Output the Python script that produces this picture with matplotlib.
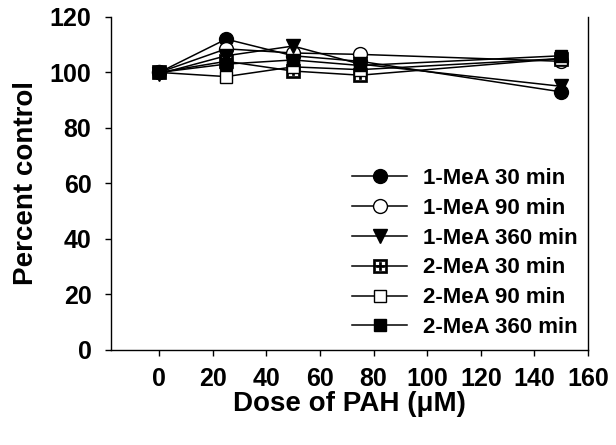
import matplotlib

matplotlib.use("Agg")
import matplotlib.pyplot as plt

plt.rcParams["font.family"] = ["Liberation Sans", "DejaVu Sans"]
plt.rcParams["font.weight"] = "bold"

dose = [0, 25, 50, 75, 150]
mea1_30 = [100, 112, 106, 104, 93]
mea1_90 = [100, 108.5, 107, 106.5, 104]
mea1_360 = [99.5, 106, 109.5, 103, 95]
mea2_30 = [100, 104, 100.5, 99, 105]
mea2_90 = [100, 98.5, 102, 101, 105]
mea2_360 = [100, 103, 104.5, 102.5, 106]

labels = ["1-MeA 30 min", "1-MeA 90 min", "1-MeA 360 min",
          "2-MeA 30 min", "2-MeA 90 min", "2-MeA 360 min"]
xticks = [0, 20, 40, 60, 80, 100, 120, 140, 160]
yticks = [0, 20, 40, 60, 80, 100, 120]

fig = plt.figure(figsize=(6.16, 4.45), dpi=100)
ax = fig.add_axes([0.180, 0.2135, 0.7745, 0.7485])

styles = [
    dict(marker="o", mfc="black", ms=10),
    dict(marker="o", mfc="white", ms=10),
    dict(marker="v", mfc="black", ms=10),
    dict(marker="$\u229e$", mfc="black", ms=10, mew=0.5),
    dict(marker="s", mfc="white", ms=8),
    dict(marker="s", mfc="black", ms=8),
]
series = [mea1_30, mea1_90, mea1_360, mea2_30, mea2_90, mea2_360]
for ys, lab, st in zip(series, labels, styles):
    ax.plot(dose, ys, color="black", lw=1.1, mec="black", label=lab, **st)

ax.set_xlim(-18, 160)
ax.set_ylim(0, 120)
ax.set_xticks(xticks)
ax.set_yticks(yticks)
ax.tick_params(direction="out", length=4, width=1, labelsize=18, pad=10)
ax.tick_params(axis="x", pad=8)
for t in ax.get_xticklabels() + ax.get_yticklabels():
    t.set_fontweight("bold")
ax.spines["top"].set_visible(False)
for s in ("left", "bottom", "right"):
    ax.spines[s].set_linewidth(1)

ax.set_xlabel("Dose of PAH (\u03bcM)", fontsize=20, fontweight="bold", labelpad=0)
ax.set_ylabel("Percent control", fontsize=20, fontweight="bold", labelpad=8)

leg = ax.legend(loc="upper left", bbox_to_anchor=(0.505, 0.547), frameon=False,
                fontsize=16, handlelength=2.5, handletextpad=0.7,
                labelspacing=0.4, borderpad=0, borderaxespad=0)
for t in leg.get_texts():
    t.set_fontweight("bold")

fig.savefig("out.png", dpi=100)
